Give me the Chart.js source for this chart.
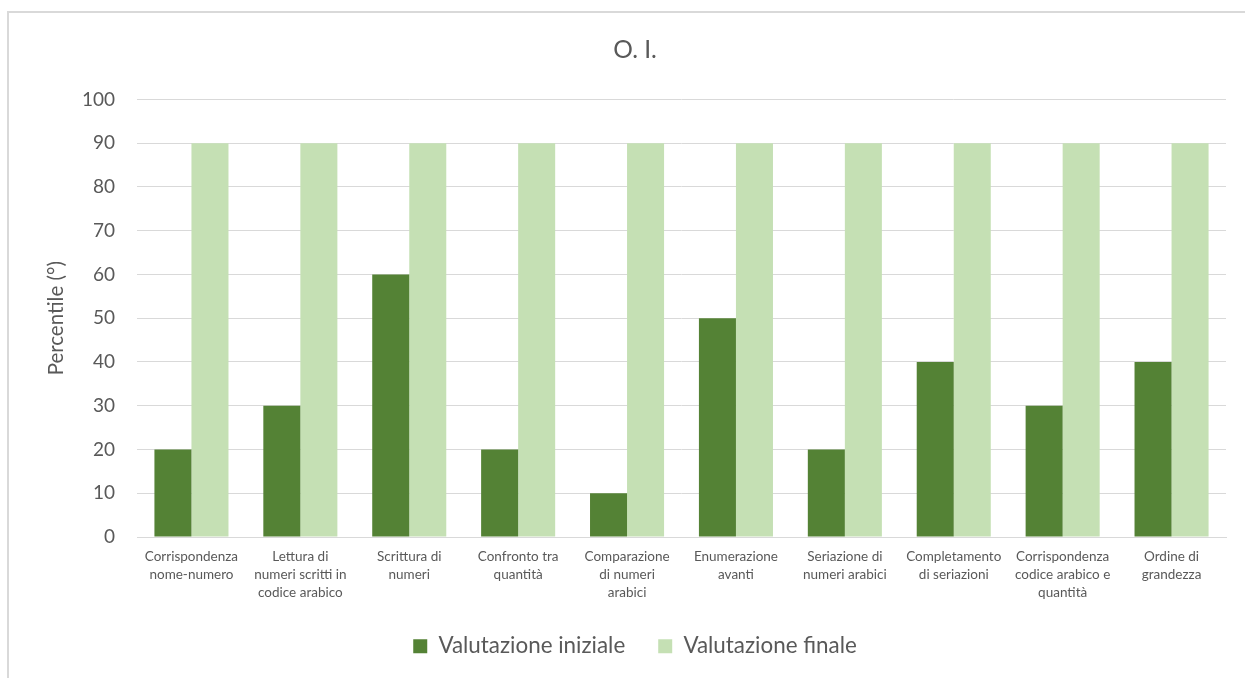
<!DOCTYPE html>
<html>
<head>
<meta charset="utf-8">
<script src="https://cdn.jsdelivr.net/npm/chart.js@4/dist/chart.umd.min.js"></script>
<style>
  html, body { margin: 0; padding: 0; background: #ffffff; }
  #wrap { position: relative; width: 1245px; height: 678px; overflow: hidden; }
  #frame { position: absolute; left: 7px; top: 11px; width: 1300px; height: 700px; border: 2px solid #d9d9d9; box-sizing: border-box; }
  #c { position: absolute; left: 0; top: 0; }
</style>
</head>
<body>
<div id="wrap">
  <div id="frame"></div>
  <canvas id="c" width="1245" height="678"></canvas>
</div>
<script>
const categories = [
  ["Corrispondenza", "nome-numero"],
  ["Lettura di", "numeri scritti in", "codice arabico"],
  ["Scrittura di", "numeri"],
  ["Confronto tra", "quantità"],
  ["Comparazione", "di numeri", "arabici"],
  ["Enumerazione", "avanti"],
  ["Seriazione di", "numeri arabici"],
  ["Completamento", "di seriazioni"],
  ["Corrispondenza", "codice arabico e", "quantità"],
  ["Ordine di", "grandezza"]
];
const valutazioneIniziale = [20, 30, 60, 20, 10, 50, 20, 40, 30, 40];
const valutazioneFinale = [90, 90, 90, 90, 90, 90, 90, 90, 90, 90];
const seriesNames = ["Valutazione iniziale", "Valutazione finale"];
const yTicks = [0, 10, 20, 30, 40, 50, 60, 70, 80, 90, 100];

const FONT = "Lato, 'Open Sans', 'Liberation Sans', sans-serif";
const TXT = "#595959";

new Chart(document.getElementById('c'), {
  type: 'bar',
  data: {
    labels: categories,
    datasets: [
      { label: seriesNames[0], data: valutazioneIniziale, backgroundColor: '#548235', borderWidth: 0, categoryPercentage: 0.68, barPercentage: 1.0 },
      { label: seriesNames[1], data: valutazioneFinale, backgroundColor: '#C5E0B4', borderWidth: 0, categoryPercentage: 0.68, barPercentage: 1.0 }
    ]
  },
  options: {
    responsive: false,
    animation: false,
    devicePixelRatio: 1,
    layout: { padding: { left: 44, right: 19, top: 0, bottom: 10.6 } },
    plugins: {
      title: {
        display: true,
        text: 'O. I.',
        color: TXT,
        font: { family: FONT, size: 24.5, weight: 'normal', lineHeight: 1.2 },
        padding: { top: 35, bottom: 35 }
      },
      legend: {
        position: 'bottom',
        labels: {
          color: TXT,
          font: { family: FONT, size: 22.4 },
          boxWidth: 14,
          boxHeight: 14,
          padding: 33
        }
      },
      tooltip: { enabled: false }
    },
    scales: {
      x: {
        grid: { display: false, drawTicks: false },
        border: { display: true, color: '#d9d9d9', width: 1 },
        ticks: {
          color: TXT,
          font: { family: FONT, size: 13.5, lineHeight: 1.32 },
          maxRotation: 0,
          autoSkip: false,
          padding: 11
        },
        afterFit: (s) => { s.height = 65; }
      },
      y: {
        min: 0,
        max: 100,
        afterBuildTicks: (s) => { s.ticks = yTicks.map(v => ({ value: v })); },
        grid: { color: '#d9d9d9', drawTicks: false, lineWidth: 1 },
        border: { display: false },
        ticks: {
          color: TXT,
          font: { family: FONT, size: 19 },
          padding: 22
        },
        title: {
          display: true,
          text: 'Percentile (°)',
          color: TXT,
          font: { family: FONT, size: 20.5 },
          padding: 0
        },
        afterFit: (s) => { s.width = 93; }
      }
    }
  }
});
</script>
</body>
</html>
